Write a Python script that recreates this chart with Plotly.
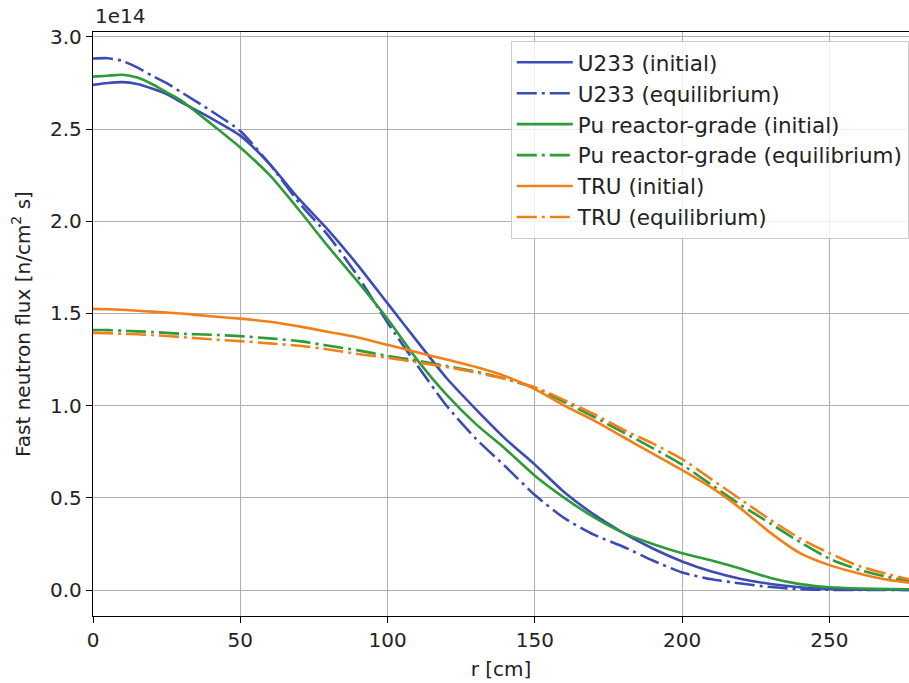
import plotly.graph_objects as go

# radial positions [cm]
r = [0, 5, 10, 15, 20, 25, 30, 40, 50, 60, 70, 80, 90, 100, 110, 120, 130, 140,
     150, 160, 170, 180, 190, 200, 210, 220, 230, 240, 250, 260, 270, 277]

# fast neutron flux, units of 1e14 n/cm^2 s
u233_initial = [2.74, 2.75, 2.755, 2.745, 2.72, 2.69, 2.645, 2.56, 2.465, 2.31, 2.12, 1.95,
                1.76, 1.555, 1.35, 1.15, 0.98, 0.82, 0.68, 0.53, 0.41, 0.31, 0.225, 0.155,
                0.10, 0.06, 0.033, 0.015, 0.006, 0.002, 0.001, 0.0]
u233_equilibrium = [2.883, 2.885, 2.87, 2.835, 2.79, 2.75, 2.70, 2.60, 2.49, 2.31, 2.10, 1.92,
                    1.70, 1.45, 1.22, 1.0, 0.82, 0.67, 0.515, 0.39, 0.30, 0.235, 0.16, 0.095,
                    0.058, 0.035, 0.016, 0.005, 0.001, 0.0, 0.0, 0.0]
pu_initial = [2.785, 2.79, 2.795, 2.78, 2.745, 2.70, 2.655, 2.53, 2.40, 2.25, 2.06, 1.86,
              1.67, 1.47, 1.25, 1.06, 0.90, 0.765, 0.62, 0.50, 0.395, 0.31, 0.25, 0.20,
              0.16, 0.115, 0.065, 0.032, 0.015, 0.008, 0.005, 0.004]
pu_equilibrium = [1.41, 1.41, 1.407, 1.403, 1.40, 1.395, 1.39, 1.385, 1.377, 1.365, 1.35, 1.325,
                  1.30, 1.27, 1.245, 1.215, 1.185, 1.145, 1.095, 1.02, 0.94, 0.855, 0.77, 0.68,
                  0.57, 0.46, 0.36, 0.26, 0.17, 0.11, 0.07, 0.048]
tru_initial = [1.525, 1.523, 1.52, 1.515, 1.51, 1.505, 1.50, 1.485, 1.472, 1.455, 1.43, 1.40,
               1.37, 1.33, 1.29, 1.25, 1.21, 1.16, 1.09, 1.0, 0.92, 0.83, 0.74, 0.65,
               0.555, 0.44, 0.31, 0.20, 0.135, 0.09, 0.055, 0.04]
tru_equilibrium = [1.395, 1.393, 1.39, 1.387, 1.383, 1.378, 1.372, 1.36, 1.35, 1.338, 1.325, 1.305,
                   1.28, 1.26, 1.235, 1.21, 1.18, 1.145, 1.10, 1.03, 0.955, 0.87, 0.795, 0.71,
                   0.60, 0.49, 0.38, 0.28, 0.20, 0.13, 0.085, 0.058]

series = [
    ("U233 (initial)", u233_initial, "#3c4cb4", "solid"),
    ("U233 (equilibrium)", u233_equilibrium, "#3c4cb4", "dashdot"),
    ("Pu reactor-grade (initial)", pu_initial, "#2e9b38", "solid"),
    ("Pu reactor-grade (equilibrium)", pu_equilibrium, "#2e9b38", "dashdot"),
    ("TRU (initial)", tru_initial, "#f37f1b", "solid"),
    ("TRU (equilibrium)", tru_equilibrium, "#f37f1b", "dashdot"),
]

DASHDOT = "20px,5px,3px,5px"

fig = go.Figure()
for name, vals, color, style in series:
    fig.add_trace(go.Scatter(
        x=r, y=vals, name=name, mode="lines",
        line=dict(color=color, width=2.6, shape="spline", smoothing=0.6,
                  dash=(DASHDOT if style == "dashdot" else "solid")),
    ))

font = "DejaVu Sans, sans-serif"
fig.update_layout(
    width=909, height=683,
    margin=dict(l=93, r=0, t=32, b=67),
    paper_bgcolor="white", plot_bgcolor="white",
    font=dict(family=font, size=20, color="#222"),
    showlegend=True,
    legend=dict(
        x=0.512, y=0.985, xanchor="left", yanchor="top",
        bgcolor="rgba(255,255,255,0.8)", bordercolor="#cccccc", borderwidth=1,
        font=dict(family=font, size=21.5, color="#222"),
        tracegroupgap=0, itemwidth=56,
    ),
    xaxis=dict(
        range=[0, 277], dtick=50, tick0=0,
        showgrid=True, gridcolor="#b0b0b0", gridwidth=1,
        zeroline=False, showline=True, linecolor="black", linewidth=1.3, mirror=True,
        ticks="outside", ticklen=6, tickwidth=1.2, tickcolor="black",
        title=dict(text="r [cm]", font=dict(size=20), standoff=10),
    ),
    yaxis=dict(
        range=[-0.141, 3.027], dtick=0.5, tick0=0, tickformat=".1f",
        showgrid=True, gridcolor="#b0b0b0", gridwidth=1,
        zeroline=False, showline=True, linecolor="black", linewidth=1.3, mirror=False,
        ticks="outside", ticklen=6, tickwidth=1.2, tickcolor="black",
        title=dict(text="Fast neutron flux [n/cm<sup>2</sup> s]", font=dict(size=20), standoff=14),
    ),
    annotations=[dict(
        text="1e14", xref="paper", yref="paper", x=0, y=1,
        xanchor="left", yanchor="bottom", yshift=2, showarrow=False,
        font=dict(family=font, size=20, color="#222"),
    )],
)

fig.write_html("out.html")
